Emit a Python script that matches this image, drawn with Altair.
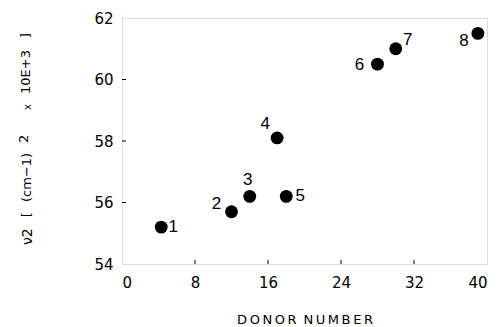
import altair as alt
import pandas as pd

donor = [4.3, 12, 14, 17, 18, 28, 30, 39]
nu2 = [55.2, 55.7, 56.2, 58.1, 56.2, 60.5, 61.0, 61.5]
labels = ["1", "2", "3", "4", "5", "6", "7", "8"]
x_ticks = [0, 8, 16, 24, 32, 40]
y_ticks = [54, 56, 58, 60, 62]

W, H = 365, 246
df = pd.DataFrame({"donor": donor, "nu2": nu2, "label": labels})

xs = alt.Scale(domain=[0, 40], nice=False, zero=False)
ys = alt.Scale(domain=[54, 62], nice=False, zero=False)

X = alt.X("donor:Q", scale=xs,
          axis=alt.Axis(values=x_ticks, tickSize=0, domain=False, grid=False,
                        labelFont="DejaVu Sans", labelFontSize=15, labelPadding=11,
                        labelColor="black", title="D\u2009O\u2009N\u2009O\u2009R\u2009 N\u2009U\u2009M\u2009B\u2009E\u2009R",
                        titleFont="DejaVu Sans", titleFontSize=13, titleFontWeight="normal",
                        titleColor="black", titleY=55, titleBaseline="middle"))
Y = alt.Y("nu2:Q", scale=ys,
          axis=alt.Axis(values=y_ticks, tickSize=0, domain=False, grid=False,
                        labelFont="DejaVu Sans", labelFontSize=15, labelPadding=9,
                        labelColor="black", title=None))

base = alt.Chart(df)
points = base.mark_circle(size=165, color="black", opacity=1).encode(x=X, y=Y)

offsets = {"1": (12, 0), "2": (-15, -8), "3": (-2, -16), "4": (-12, -14),
           "5": (14, 0), "6": (-18, 1), "7": (12, -9), "8": (-14, 8)}
label_layers = []
for lab, (dx, dy) in offsets.items():
    label_layers.append(
        base.transform_filter(alt.datum.label == lab)
        .mark_text(font="Liberation Sans", fontSize=17, color="black",
                   align="center", baseline="middle", dx=dx, dy=dy)
        .encode(x=alt.X("donor:Q", scale=xs), y=alt.Y("nu2:Q", scale=ys), text="label:N")
    )

xt = pd.DataFrame({"v": [8, 16, 24, 32]})
yt = pd.DataFrame({"v": [56, 58, 60]})
xtick_marks = alt.Chart(xt).mark_rule(color="black", strokeWidth=1).encode(
    x=alt.X("v:Q", scale=xs), y=alt.value(H), y2=alt.value(H - 4))
ytick_marks = alt.Chart(yt).mark_rule(color="black", strokeWidth=1).encode(
    y=alt.Y("v:Q", scale=ys), x=alt.value(0), x2=alt.value(4))

title_parts = [
    ("\u03bd2", -90, 227, 14),
    ("[", -91, 199, 12),
    ("(cm\u22121)", -91, 184, 13),
    ("2", -94, 125, 13),
    ("x", -91, 92, 10),
    ("10E+3", -92, 76, 13),
    ("]", -92, 20, 12),
]
title_layers = []
for txt, tx, ty, fs in title_parts:
    title_layers.append(
        alt.Chart(pd.DataFrame({"t": [txt]})).mark_text(
            font="DejaVu Sans", fontSize=fs, color="black", angle=270,
            align="left", baseline="alphabetic")
        .encode(x=alt.value(tx), y=alt.value(ty), text="t:N")
    )

chart = alt.layer(points, *label_layers, xtick_marks, ytick_marks, *title_layers).properties(
    width=W, height=H,
    autosize=alt.AutoSizeParams(type="none"),
    padding={"left": 122, "top": 18, "right": 11, "bottom": 63},
).configure_view(stroke="black", strokeWidth=1.2).configure(background="white")

chart.save("out.html", embed_options={"renderer": "svg", "actions": False})
